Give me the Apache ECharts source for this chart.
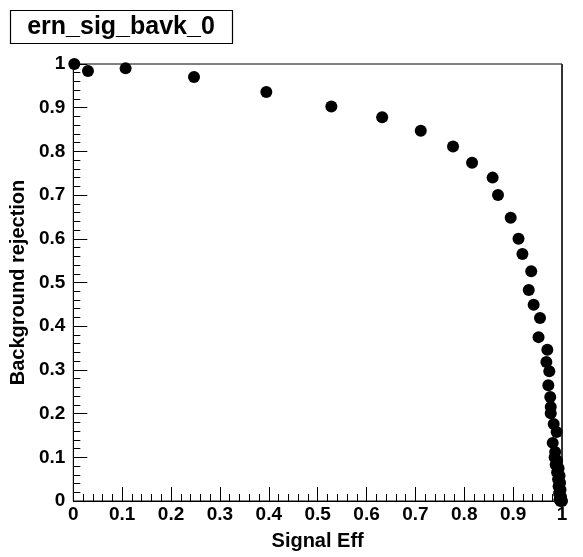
<!DOCTYPE html>
<html>
<head>
<meta charset="utf-8">
<script src="https://cdn.jsdelivr.net/npm/echarts@6/dist/echarts.min.js"></script>
<style>html,body{margin:0;padding:0;background:#fff;}#c{width:583px;height:557px;}</style>
</head>
<body>
<div id="c"></div>
<script>
const chartTitle = "ern_sig_bavk_0";
const xTitle = "Signal Eff";
const yTitle = "Background rejection";
const sigEff = [0.002, 0.03, 0.107, 0.247, 0.395, 0.528, 0.632, 0.711, 0.777, 0.816, 0.858, 0.869, 0.895, 0.911, 0.919, 0.937, 0.932, 0.942, 0.955, 0.952, 0.970, 0.968, 0.974, 0.972, 0.976, 0.977, 0.977, 0.983, 0.989, 0.981, 0.986,
  0.985, 0.990, 0.987, 0.993, 0.990, 0.995, 0.992, 0.996, 0.993, 0.997, 0.994, 0.998, 0.995, 1.000, 0.997];
const bkgRej = [1.0, 0.984, 0.99, 0.970, 0.936, 0.903, 0.878, 0.847, 0.811, 0.774, 0.740, 0.700, 0.648, 0.600, 0.565, 0.526, 0.483, 0.449, 0.419, 0.375, 0.346, 0.318, 0.297, 0.265, 0.238, 0.215, 0.201, 0.176, 0.158, 0.133, 0.112,
  0.100, 0.092, 0.083, 0.075, 0.066, 0.058, 0.050, 0.042, 0.034, 0.026, 0.018, 0.010, 0.004, 0.000, 0.000];
const ticks = [0, 0.1, 0.2, 0.3, 0.4, 0.5, 0.6, 0.7, 0.8, 0.9, 1];

const points = sigEff.map((x, i) => [x, bkgRej[i]]);
const fontFam = '"Liberation Sans", Arial, Helvetica, sans-serif';
const fmt = v => {
  const r = Math.round(v * 10) / 10;
  return ticks.indexOf(r) >= 0 ? String(r) : '';
};
const axisCommon = {
  type: 'value', min: 0, max: 1, interval: 0.1,
  axisLine: { show: true, lineStyle: { color: '#000', width: 1 } },
  axisTick: { show: true, inside: true, length: 14, lineStyle: { color: '#000', width: 1 } },
  minorTick: { show: true, splitNumber: 5, length: 7, lineStyle: { color: '#000', width: 1 } },
  splitLine: { show: false },
  minorSplitLine: { show: false },
  nameTextStyle: { fontFamily: fontFam, fontWeight: 'bold', fontSize: 20, color: '#000' }
};
const chart = echarts.init(document.getElementById('c'), null, { renderer: 'canvas' });
chart.setOption({
  animation: false,
  backgroundColor: '#fff',
  grid: { left: 68, right: 21, top: 64, bottom: 56, show: true, borderColor: '#000', borderWidth: 1, backgroundColor: 'transparent' },
  graphic: [
    { type: 'rect', shape: { x: 10.5, y: 10.5, width: 222, height: 33 }, style: { fill: '#fff', stroke: '#000', lineWidth: 1.2 } },
    { type: 'text', x: 121, y: 27, style: { text: chartTitle, fontFamily: fontFam, fontWeight: 'bold', fontSize: 25, fill: '#000', align: 'center', verticalAlign: 'middle' } },
    { type: 'line', shape: { x1: 562, y1: 64, x2: 562, y2: 501 }, style: { stroke: '#333', lineWidth: 2 }, z: 0 }
  ],
  xAxis: Object.assign({}, axisCommon, {
    name: xTitle, nameLocation: 'middle', nameGap: 30,
    axisLabel: { formatter: fmt, fontFamily: fontFam, fontWeight: 'bold', fontSize: 19, color: '#000', margin: 4 }
  }),
  yAxis: Object.assign({}, axisCommon, {
    name: yTitle, nameLocation: 'middle', nameGap: 43,
    axisLabel: { formatter: fmt, fontFamily: fontFam, fontWeight: 'bold', fontSize: 19, color: '#000', margin: 8 }
  }),
  series: [{
    type: 'scatter', data: points, symbol: 'circle', symbolSize: 12,
    itemStyle: { color: '#000', opacity: 1 }, clip: false
  }]
});
</script>
</body>
</html>
